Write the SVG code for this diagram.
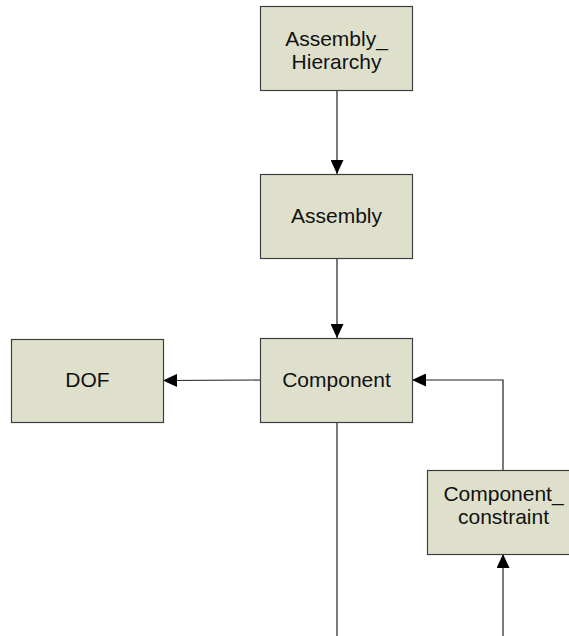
<svg xmlns="http://www.w3.org/2000/svg" width="569" height="636" viewBox="0 0 569 636">
  <style>
    .box { fill: #dfe0cc; stroke: #3f3f3f; stroke-width: 1.2; }
    .lbl { font-family: "Liberation Sans", Arial, sans-serif; font-size: 21px; fill: #111; text-anchor: middle; }
    .edge { fill: none; stroke: #202020; stroke-width: 1.2; }
  </style>
  <defs>
    <marker id="arrow" viewBox="0 0 14 13" refX="14" refY="6.5" markerWidth="14" markerHeight="13" markerUnits="userSpaceOnUse" orient="auto">
      <path d="M0,0 L14,6.5 L0,13 Z" fill="#000"/>
    </marker>
  </defs>
  <rect width="569" height="636" fill="#ffffff"/>

  <g id="connectors">
    <line class="edge" x1="337" y1="91" x2="337" y2="174" marker-end="url(#arrow)"/>
    <line class="edge" x1="337" y1="258" x2="337" y2="338" marker-end="url(#arrow)"/>
    <line class="edge" x1="260" y1="380" x2="163" y2="380.5" marker-end="url(#arrow)"/>
    <polyline class="edge" points="503,470 503,380 412,380" marker-end="url(#arrow)"/>
    <line class="edge" x1="337" y1="422" x2="337" y2="636"/>
    <line class="edge" x1="503" y1="636" x2="503" y2="554" marker-end="url(#arrow)"/>
  </g>

  <g id="assembly_hierarchy">
    <rect class="box" x="260.5" y="6.5" width="152" height="84"/>
    <text class="lbl" x="336.5" y="46">Assembly_</text>
    <text class="lbl" x="336.5" y="69">Hierarchy</text>
  </g>

  <g id="assembly">
    <rect class="box" x="260.5" y="174.5" width="152" height="84"/>
    <text class="lbl" x="336.5" y="223">Assembly</text>
  </g>

  <g id="component">
    <rect class="box" x="260.5" y="338.5" width="152" height="84"/>
    <text class="lbl" x="336.5" y="387">Component</text>
  </g>

  <g id="dof">
    <rect class="box" x="11.5" y="339.5" width="152" height="83"/>
    <text class="lbl" x="87.5" y="387">DOF</text>
  </g>

  <g id="component_constraint">
    <rect class="box" x="427.5" y="470.5" width="152" height="84"/>
    <text class="lbl" x="503.5" y="501">Component_</text>
    <text class="lbl" x="503.5" y="524">constraint</text>
  </g>
</svg>
